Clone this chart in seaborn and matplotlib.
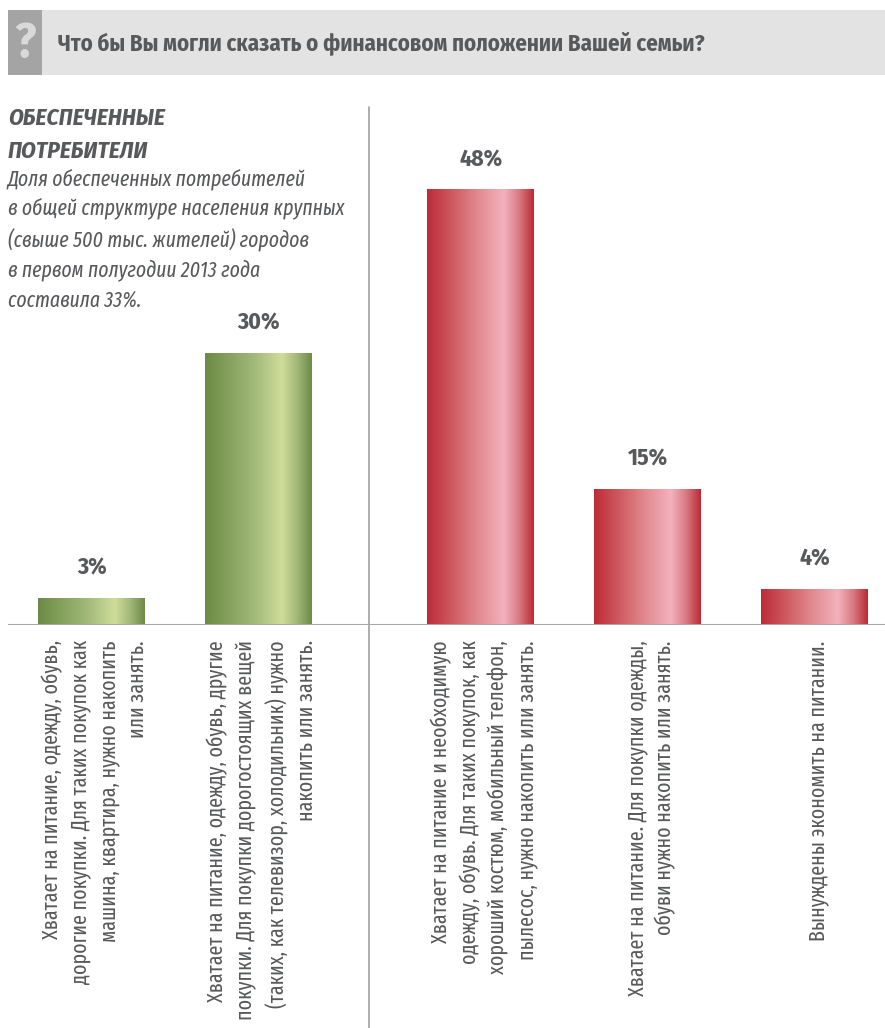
import numpy as np
import pandas as pd
import matplotlib
matplotlib.use("Agg")
import matplotlib.pyplot as plt
import seaborn as sns
from matplotlib.colors import LinearSegmentedColormap
from matplotlib.patches import Rectangle
from matplotlib.lines import Line2D
from matplotlib import font_manager

# ---- data ---------------------------------------------------------------
title = "Что бы Вы могли сказать о финансовом положении Вашей семьи?"
segment_title = "ОБЕСПЕЧЕННЫЕ\nПОТРЕБИТЕЛИ"
segment_note = ("Доля обеспеченных потребителей\n"
                "в общей структуре населения крупных\n"
                "(свыше 500 тыс. жителей) городов\n"
                "в первом полугодии 2013 года\n"
                "составила 33%.")

categories = [
    "Хватает на питание, одежду, обувь,\nдорогие покупки. Для таких покупок как\n"
    "машина, квартира, нужно накопить\nили занять.",
    "Хватает на питание, одежду, обувь, другие\nпокупки. Для покупки дорогостоящих вещей\n"
    "(таких, как телевизор, холодильник) нужно\nнакопить или занять.",
    "Хватает на питание и необходимую\nодежду, обувь. Для таких покупок, как\n"
    "хороший костюм, мобильный телефон,\nпылесос, нужно накопить или занять.",
    "Хватает на питание. Для покупки одежды,\nобуви нужно накопить или занять.",
    "Вынуждены экономить на питании.",
]
shares = [3, 30, 48, 15, 4]
groups = ["обеспеченные", "обеспеченные", "прочие", "прочие", "прочие"]

# ---- style --------------------------------------------------------------
sns.set_theme(style="white")
names = {f.name for f in font_manager.fontManager.ttflist}

def pick(options):
    return next(n for n in options if n in names)

cond = pick(["Fira Sans Condensed", "PT Sans Narrow", "Roboto Condensed", "Roboto"])
xcond = pick(["Fira Sans Extra Condensed", cond])
plt.rcParams["font.family"] = [cond, "DejaVu Sans"]
COND = [cond, "DejaVu Sans"]
XCOND = [xcond, "DejaVu Sans"]

TXT = "#58595b"
LINE = "#a7a7a7"
W, H = 885, 1028

def fx(px):
    return px / W

def fy(px):
    return 1 - px / H

fig = plt.figure(figsize=(W / 100, H / 100), dpi=100)
fig.patch.set_facecolor("white")

# header band with question mark box
fig.add_artist(Rectangle((fx(42), fy(75)), fx(885) - fx(42), (75 - 10) / H,
                         transform=fig.transFigure, color="#e3e3e3", lw=0))
fig.add_artist(Rectangle((fx(8), fy(75)), fx(42) - fx(8), (75 - 10) / H,
                         transform=fig.transFigure, color="#a4a4a4", lw=0))
fig.text(fx(25), fy(44), "?", color="#d9d9d9", fontsize=35, fontweight="bold",
         ha="center", va="center", family=COND)
fig.text(fx(58), fy(43), title, color=TXT, fontsize=16.4, fontweight="bold",
         ha="left", va="center", family=COND)

# segment description
fig.text(fx(8), fy(107), segment_title, color=TXT, fontsize=17, fontweight="bold",
         fontstyle="italic", ha="left", va="top", linespacing=1.5, family=COND)
fig.text(fx(8), fy(168), segment_note, color=TXT, fontsize=15.4,
         fontstyle="italic", ha="left", va="top", linespacing=1.47, family=XCOND)

# divider between the two groups
fig.add_artist(Line2D([fx(369), fx(369)], [fy(107), fy(1028)],
                      transform=fig.transFigure, color=LINE, lw=1.3))

# ---- bars ---------------------------------------------------------------
group_idx = pd.factorize(pd.Series(groups))[0]
positions = np.arange(len(shares)) + 0.33 * group_idx
df = pd.DataFrame({"pos": positions, "share": shares, "group": groups,
                   "label": categories})

ax = fig.add_axes([fx(8), fy(625), fx(885) - fx(8), (625 - 100) / H])
sns.barplot(data=df, x="pos", y="share", hue="group",
            palette=["#9ab272", "#dc7a82"], native_scale=True, width=0.64,
            dodge=False, legend=False, saturation=1, edgecolor="none", ax=ax)

cmaps = {
    "обеспеченные": LinearSegmentedColormap.from_list(
        "green_bar", [(0, "#6c8a47"), (0.12, "#7a9752"), (0.45, "#a0b878"),
                      (0.72, "#d0dd9a"), (0.86, "#a3b878"), (1, "#6d8b48")]),
    "прочие": LinearSegmentedColormap.from_list(
        "red_bar", [(0, "#bc2c37"), (0.12, "#c6434b"), (0.45, "#df8589"),
                    (0.72, "#f3b2be"), (0.86, "#da7b83"), (1, "#bb2b35")]),
}
grad = np.linspace(0, 1, 256).reshape(1, -1)
bars = sorted(ax.patches, key=lambda p: p.get_x())
for patch, grp in zip(bars, df["group"]):
    x0, y0 = patch.get_x(), patch.get_y()
    w, h = patch.get_width(), patch.get_height()
    im = ax.imshow(grad, cmap=cmaps[grp], aspect="auto", interpolation="bilinear",
                   extent=[x0, x0 + w, y0, y0 + h], zorder=patch.get_zorder() + 0.1)
    im.set_clip_path(patch)

ax.set_xlim(-0.5, 4.75)
ax.set_ylim(0, 57.8)
ax.axis("off")
ax.axhline(0, color=LINE, lw=2.2, zorder=5)

for row in df.itertuples():
    ax.annotate(f"{row.share}%", (row.pos, row.share), xytext=(0, 16.5),
                textcoords="offset points", ha="center", va="baseline",
                color=TXT, fontsize=17, fontweight="bold", family=COND)
    ax.annotate(row.label, (row.pos, 0), xytext=(2.5, -11),
                textcoords="offset points", rotation=90, ha="center", va="top",
                multialignment="right", linespacing=1.42, color=TXT,
                fontsize=15.6, family=XCOND, annotation_clip=False)

fig.savefig("out.png", dpi=100, facecolor="white")
